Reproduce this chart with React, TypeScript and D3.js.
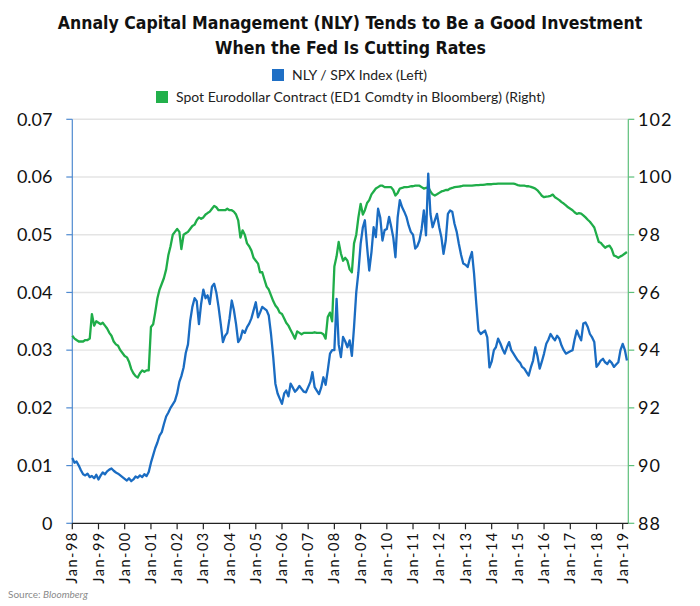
import React, { useLayoutEffect, useRef, useState } from 'react';
import * as d3 from 'd3';

const START_MONTH = '1998-01';
const END_DATE = '2019-03-20';

// NLY / SPX ratio, monthly from Jan-98
const nlyValues: number[] = [
  0.0113, 0.0105, 0.0107, 0.0100, 0.0092, 0.0085, 0.0083, 0.0086, 0.0080, 0.0082, 0.0078, 0.0084,
  0.0076, 0.0083, 0.0088, 0.0085, 0.0090, 0.0093, 0.0095, 0.0091, 0.0088, 0.0086, 0.0083, 0.0080,
  0.0077, 0.0074, 0.0078, 0.0073, 0.0076, 0.0081, 0.0079, 0.0083, 0.0080, 0.0085, 0.0082, 0.0089,
  0.0105, 0.0118, 0.0130, 0.0140, 0.0152, 0.0158, 0.0172, 0.0185, 0.0192, 0.0200, 0.0206, 0.0212,
  0.0225, 0.0245, 0.0255, 0.0270, 0.0295, 0.0310, 0.0350, 0.0375, 0.0390, 0.0385, 0.0345, 0.0380,
  0.0405, 0.0390, 0.0395, 0.0380, 0.0410, 0.0415, 0.0400, 0.0375, 0.0345, 0.0314, 0.0325, 0.0330,
  0.0355, 0.0386, 0.0370, 0.0345, 0.0314, 0.0320, 0.0334, 0.0330, 0.0340, 0.0346, 0.0355, 0.0369,
  0.0383, 0.0357, 0.0365, 0.0375, 0.0372, 0.0369, 0.0360, 0.0328, 0.0288, 0.0242, 0.0225, 0.0216,
  0.0207, 0.0225, 0.0230, 0.0220, 0.0242, 0.0235, 0.0228, 0.0232, 0.0238, 0.0233, 0.0228, 0.0227,
  0.0236, 0.0245, 0.0262, 0.0236, 0.0230, 0.0224, 0.0235, 0.0253, 0.0240, 0.0265, 0.0294, 0.0300,
  0.0300, 0.0389, 0.0310, 0.0288, 0.0323, 0.0315, 0.0305, 0.0317, 0.0290, 0.0340, 0.0400, 0.0435,
  0.0484, 0.0513, 0.0525, 0.0479, 0.0438, 0.0470, 0.0513, 0.0496, 0.0545, 0.0530, 0.0490, 0.0508,
  0.0510, 0.0531, 0.0515, 0.0495, 0.0461, 0.0530, 0.0560, 0.0548, 0.0540, 0.0531, 0.0516, 0.0505,
  0.0500, 0.0476, 0.0480, 0.0490, 0.0510, 0.0542, 0.0499, 0.0606, 0.0536, 0.0513, 0.0525, 0.0536,
  0.0513, 0.0495, 0.0467, 0.0490, 0.0536, 0.0542, 0.0540, 0.0519, 0.0505, 0.0484, 0.0465, 0.0450,
  0.0448, 0.0444, 0.0458, 0.0470, 0.0432, 0.0380, 0.0334, 0.0328, 0.0331, 0.0334, 0.0322, 0.0270,
  0.0280, 0.0300, 0.0305, 0.0320, 0.0312, 0.0302, 0.0294, 0.0305, 0.0314, 0.0300, 0.0294, 0.0288,
  0.0282, 0.0278, 0.0271, 0.0268, 0.0262, 0.0256, 0.0270, 0.0282, 0.0305, 0.0290, 0.0268, 0.0280,
  0.0294, 0.0311, 0.0318, 0.0328, 0.0322, 0.0317, 0.0325, 0.0320, 0.0308, 0.0300, 0.0294, 0.0296,
  0.0298, 0.0300, 0.0318, 0.0334, 0.0325, 0.0317, 0.0346, 0.0348, 0.0340, 0.0328, 0.0322, 0.0314,
  0.0271, 0.0276, 0.0282, 0.0285, 0.0279, 0.0276, 0.0282, 0.0278, 0.0271, 0.0275, 0.0279, 0.0300,
  0.0311, 0.0300, 0.0282,
];

// Spot Eurodollar contract, monthly from Jan-98
const edValues: number[] = [
  94.5, 94.4, 94.35, 94.3, 94.3, 94.3, 94.35, 94.35, 94.4, 95.25, 94.85, 95.0,
  94.95, 94.9, 94.95, 94.85, 94.75, 94.6, 94.5, 94.3, 94.2, 94.15, 94.0, 93.9,
  93.8, 93.75, 93.6, 93.35, 93.2, 93.1, 93.05, 93.2, 93.3, 93.25, 93.3, 93.3,
  94.8, 94.9, 95.3, 95.8, 96.1, 96.3, 96.5, 96.8, 97.3, 97.6, 98.0, 98.1,
  98.2, 98.1, 97.5, 98.0, 98.05, 98.1, 98.2, 98.3, 98.35, 98.5, 98.6, 98.55,
  98.6, 98.7, 98.75, 98.8, 98.9, 99.0, 98.95, 98.85, 98.85, 98.85, 98.85, 98.9,
  98.85, 98.85, 98.8, 98.7, 98.5, 97.9, 98.15, 98.0, 97.7, 97.6, 97.45, 97.2,
  97.1, 97.0, 96.7, 96.7, 96.45, 96.2, 96.1, 95.9, 95.7, 95.55, 95.45, 95.3,
  95.25, 95.1, 94.95, 94.85, 94.7, 94.55, 94.4, 94.65, 94.6, 94.55, 94.6, 94.6,
  94.6, 94.6, 94.6, 94.62, 94.6, 94.6, 94.6, 94.55, 94.4, 95.15, 95.3, 95.0,
  96.9, 97.25, 97.75, 97.35, 97.1, 97.2, 97.1, 96.8, 96.7, 97.7, 98.0, 98.6,
  99.07, 98.7, 98.85, 99.1, 99.2, 99.4, 99.5, 99.6, 99.65, 99.7, 99.7, 99.65,
  99.65, 99.65, 99.65, 99.55, 99.36, 99.45, 99.6, 99.62, 99.65, 99.65, 99.66, 99.68,
  99.68, 99.7, 99.7, 99.7, 99.65, 99.6, 99.62, 99.65, 99.5, 99.4, 99.36, 99.4,
  99.45, 99.5, 99.52, 99.55, 99.55, 99.6, 99.62, 99.65, 99.66, 99.67, 99.68, 99.7,
  99.7, 99.7, 99.7, 99.7, 99.71, 99.72, 99.72, 99.73, 99.73, 99.74, 99.75, 99.75,
  99.75, 99.76, 99.76, 99.77, 99.77, 99.77, 99.77, 99.77, 99.77, 99.77, 99.77, 99.75,
  99.72, 99.7, 99.7, 99.7, 99.68, 99.68, 99.66, 99.63, 99.6, 99.54, 99.45, 99.35,
  99.3, 99.32, 99.33, 99.35, 99.39, 99.3, 99.25, 99.2, 99.13, 99.08, 99.02, 98.95,
  98.9, 98.85, 98.78, 98.72, 98.75, 98.73, 98.67, 98.6, 98.52, 98.45, 98.35, 98.25,
  98.0, 97.75, 97.72, 97.63, 97.55, 97.6, 97.62, 97.5, 97.28, 97.25, 97.2, 97.25,
  97.29, 97.35, 97.4,
];

const leftTicks = [0, 0.01, 0.02, 0.03, 0.04, 0.05, 0.06, 0.07];
const rightTicks = [88, 90, 92, 94, 96, 98, 100, 102];

const titleLines = [
  'Annaly Capital Management (NLY) Tends to Be a Good Investment',
  'When the Fed Is Cutting Rates',
];
const legendItems = [
  { label: 'NLY / SPX Index (Left)', color: '#1f6fc5' },
  { label: 'Spot Eurodollar Contract (ED1 Comdty in Bloomberg) (Right)', color: '#22b04b' },
];

const BLUE = '#1a6cc2';
const GREEN = '#1fad49';
const FONT = "Lato, 'Open Sans', sans-serif";
const TITLE_FONT = "'Liberation Sans Narrow', 'DejaVu Sans Condensed', 'Arial Narrow', sans-serif";

export default function App() {
  const W = 700;
  const H = 606;
  const m = { left: 72.3, right: 628.3, top: 119.3, bottom: 523.3 };

  // fit the title's font size so that line 1 spans ~585px, as in the reference
  const titleRef = useRef<SVGTextElement>(null);
  const [titleSize, setTitleSize] = useState(20);
  useLayoutEffect(() => {
    const el = titleRef.current;
    if (!el) return;
    const w = el.getComputedTextLength();
    if (w > 0) {
      const s = (20 * 585) / w;
      if (Math.abs(s - titleSize) > 0.05) setTitleSize(Math.min(26, Math.max(14, s)));
    }
  }, []);

  const parseMonth = d3.timeParse('%Y-%m');
  const start = parseMonth(START_MONTH) as Date;
  const end = d3.timeParse('%Y-%m-%d')(END_DATE) as Date;
  const dates = nlyValues.map((_, i) => d3.timeMonth.offset(start, i));

  const x = d3.scaleTime().domain([start, end]).range([m.left, m.right]);
  const yL = d3.scaleLinear().domain([0, 0.07]).range([m.bottom, m.top]);
  const yR = d3.scaleLinear().domain([88, 102]).range([m.bottom, m.top]);

  const nlyLine = d3
    .line<number>()
    .x((_, i) => x(dates[i]))
    .y((d) => yL(d))(nlyValues) as string;
  const edLine = d3
    .line<number>()
    .x((_, i) => x(dates[i]))
    .y((d) => yR(d))(edValues) as string;

  const years = d3.timeYear.range(start, end);
  const fmt = d3.timeFormat('%b-%y');

  return (
    <svg
      width={W}
      height={H}
      viewBox={`0 0 ${W} ${H}`}
      style={{ position: 'absolute', left: 0, top: 0, background: '#fff' }}
    >
      {/* title */}
      <g fontFamily={TITLE_FONT} fontWeight="bold" fill="#111" textAnchor="middle">
        <text ref={titleRef} x={350} y={29} fontSize={titleSize}>
          {titleLines[0]}
        </text>
        <text x={350.5} y={54} fontSize={titleSize}>
          {titleLines[1]}
        </text>
      </g>

      {/* legend */}
      <g fontFamily={FONT} fontSize={14} fill="#222">
        <rect x={272} y={69} width={12} height={12} fill={legendItems[0].color} />
        <text x={292} y={80} textLength={135} lengthAdjust="spacingAndGlyphs">
          {legendItems[0].label}
        </text>
        <rect x={156} y={91} width={12} height={12} fill={legendItems[1].color} />
        <text x={176} y={102} textLength={369} lengthAdjust="spacingAndGlyphs">
          {legendItems[1].label}
        </text>
      </g>

      {/* grid */}
      {leftTicks.slice(1).map((t) => (
        <line
          key={'g' + t}
          x1={m.left}
          x2={m.right}
          y1={yL(t)}
          y2={yL(t)}
          stroke="#e4e4e4"
          strokeWidth={1.4}
        />
      ))}

      {/* left axis */}
      <line x1={m.left} x2={m.left} y1={m.top} y2={m.bottom} stroke="#4f8ad0" strokeWidth={1.2} />
      {leftTicks.map((t) => (
        <g key={'l' + t}>
          <line x1={m.left - 6} x2={m.left} y1={yL(t)} y2={yL(t)} stroke="#4f8ad0" strokeWidth={1.2} />
          <text
            x={52.5}
            y={yL(t)}
            dy="0.35em"
            textAnchor="end"
            fontFamily={FONT}
            fontSize={18}
            fill="#111"
          >
            {t === 0 ? '0' : t.toFixed(2)}
          </text>
        </g>
      ))}

      {/* right axis */}
      <line x1={m.right} x2={m.right} y1={m.top} y2={m.bottom} stroke="#5cbf7a" strokeWidth={1.2} />
      {rightTicks.map((t) => (
        <g key={'r' + t}>
          <line x1={m.right} x2={m.right + 6} y1={yR(t)} y2={yR(t)} stroke="#5cbf7a" strokeWidth={1.2} />
          <text
            x={638}
            y={yR(t)}
            dy="0.35em"
            textAnchor="start"
            fontFamily={FONT}
            fontSize={18}
            letterSpacing={1}
            fill="#111"
          >
            {t}
          </text>
        </g>
      ))}

      {/* series */}
      <path d={edLine} fill="none" stroke={GREEN} strokeWidth={2.3} strokeLinejoin="round" />
      <path d={nlyLine} fill="none" stroke={BLUE} strokeWidth={2.3} strokeLinejoin="round" />

      {/* bottom axis */}
      <line x1={m.left} x2={m.right} y1={m.bottom} y2={m.bottom} stroke="#222" strokeWidth={1.2} />
      {years.map((d) => (
        <g key={d.toISOString()}>
          <line x1={x(d)} x2={x(d)} y1={m.bottom} y2={m.bottom + 6} stroke="#222" strokeWidth={1.2} />
          <text
            transform={`translate(${x(d)},${m.bottom + 8}) rotate(-90)`}
            textAnchor="end"
            dy="0.35em"
            fontFamily={FONT}
            fontSize={14.5}
            letterSpacing={1.5}
            fill="#111"
          >
            {fmt(d)}
          </text>
        </g>
      ))}

      {/* source */}
      <text x={8} y={598} fontFamily={FONT} fontSize={10} fill="#8a8a8a">
        Source: <tspan fontStyle="italic">Bloomberg</tspan>
      </text>
    </svg>
  );
}
